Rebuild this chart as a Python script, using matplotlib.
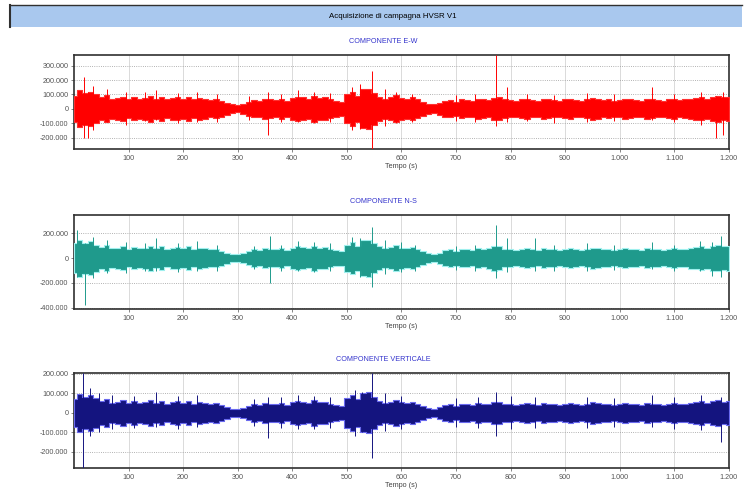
import matplotlib.pyplot as plt
import matplotlib.ticker as mticker
from matplotlib.patches import Rectangle
import numpy as np

plt.rcParams['font.family'] = ['Liberation Sans', 'DejaVu Sans']

# time axis of the envelopes (s), one value every 10 s
t_env = list(range(0, 1201, 10))

# amplitude envelope of the dense part of each trace (thousands of counts)
ew_env = [90, 130, 110, 120, 100, 80, 95, 70, 75, 85, 65, 80,
          70, 75, 90, 70, 85, 65, 75, 80, 70, 85, 65, 75,
          70, 60, 65, 55, 40, 30, 25, 35, 50, 60, 55, 70,
          65, 60, 70, 55, 75, 85, 80, 70, 90, 75, 80, 65,
          55, 50, 100, 120, 90, 135, 140, 110, 85, 70, 80, 95,
          75, 70, 80, 65, 50, 35, 30, 40, 55, 60, 50, 65,
          60, 55, 70, 65, 60, 75, 80, 65, 60, 55, 65, 70,
          60, 55, 70, 65, 60, 55, 65, 70, 60, 55, 65, 75,
          70, 60, 65, 55, 60, 70, 65, 60, 55, 70, 65, 60,
          55, 65, 70, 60, 65, 70, 75, 80, 70, 85, 90, 80, 85]
ns_env = [120, 150, 125, 135, 110, 90, 105, 80, 85, 95, 75, 90,
          80, 85, 100, 80, 95, 75, 85, 90, 80, 95, 75, 85,
          80, 70, 75, 60, 45, 35, 30, 40, 55, 70, 65, 80,
          75, 70, 80, 65, 85, 95, 90, 80, 100, 85, 90, 75,
          65, 60, 110, 130, 100, 145, 150, 120, 95, 80, 90, 105,
          85, 80, 90, 75, 55, 40, 35, 45, 65, 70, 60, 75,
          70, 65, 80, 75, 85, 100, 95, 75, 70, 65, 75, 80,
          70, 65, 80, 75, 70, 65, 75, 80, 70, 65, 75, 85,
          80, 70, 75, 65, 70, 80, 75, 70, 65, 80, 75, 70,
          65, 75, 80, 70, 75, 85, 90, 95, 85, 100, 105, 95, 100]
ve_env = [70, 95, 80, 90, 75, 60, 70, 50, 55, 65, 50, 60,
          50, 55, 65, 50, 60, 45, 55, 60, 50, 60, 45, 55,
          50, 45, 50, 40, 30, 22, 20, 25, 35, 45, 40, 50,
          45, 45, 50, 40, 55, 60, 55, 50, 65, 55, 55, 45,
          40, 35, 75, 90, 70, 100, 105, 80, 60, 50, 55, 65,
          55, 50, 55, 45, 35, 25, 22, 30, 40, 45, 35, 45,
          45, 40, 50, 45, 45, 55, 55, 45, 45, 40, 45, 50,
          45, 40, 50, 45, 45, 40, 45, 50, 45, 40, 45, 55,
          50, 45, 45, 40, 45, 50, 45, 45, 40, 50, 45, 45,
          40, 45, 50, 45, 45, 50, 55, 60, 50, 60, 65, 55, 60]

# isolated peaks: time (s), max, min (thousands of counts)
ew_peaks = [(18, 220, -200), (26, 120, -200), (35, 160, -150), (60, 140, -90),
            (95, 120, -110), (130, 115, -85), (150, 130, -80), (190, 110, -100),
            (225, 120, -90), (262, 100, -95), (320, 90, -80), (355, 120, -180),
            (380, 100, -95), (410, 130, -90), (440, 120, -100), (470, 110, -95),
            (510, 150, -150), (525, 170, -140), (546, 260, -280), (570, 140, -120),
            (590, 120, -100), (620, 100, -90), (700, 95, -85), (735, 100, -90),
            (773, 375, -120), (793, 150, -90), (830, 100, -85), (880, 95, -100),
            (940, 110, -90), (990, 100, -85), (1060, 150, -80), (1100, 100, -95),
            (1150, 120, -110), (1176, 90, -200), (1190, 120, -180)]
ns_peaks = [(5, 225, -150), (20, 120, -380), (35, 170, -160), (60, 150, -120),
            (95, 130, -120), (130, 125, -100), (150, 160, -100), (190, 120, -110),
            (225, 140, -100), (262, 110, -100), (330, 100, -90), (360, 180, -200),
            (380, 110, -100), (410, 140, -100), (440, 130, -110), (470, 120, -100),
            (510, 170, -120), (525, 160, -150), (546, 250, -230), (570, 150, -130),
            (600, 130, -110), (625, 110, -100), (700, 100, -95), (735, 110, -100),
            (773, 270, -160), (793, 160, -110), (845, 160, -100), (880, 110, -105),
            (940, 120, -100), (990, 110, -95), (1060, 130, -90), (1100, 110, -105),
            (1148, 140, -100), (1170, 130, -140), (1185, 180, -150)]
ve_peaks = [(17, 205, -282), (30, 130, -120), (45, 100, -95), (70, 90, -80),
            (110, 85, -75), (150, 110, -70), (190, 85, -80), (225, 90, -70),
            (330, 70, -65), (355, 80, -130), (380, 80, -75), (410, 90, -80),
            (440, 85, -80), (470, 80, -75), (515, 120, -120), (528, 110, -100),
            (546, 205, -230), (570, 100, -90), (600, 85, -80), (700, 75, -70),
            (740, 80, -75), (773, 110, -120), (800, 85, -80), (845, 80, -75),
            (940, 80, -75), (990, 75, -70), (1060, 90, -70), (1100, 80, -80),
            (1150, 90, -85), (1185, 80, -150)]

x_ticks = [100, 200, 300, 400, 500, 600, 700, 800, 900, 1000, 1100, 1200]

panels = [
    ('COMPONENTE E-W', ew_env, ew_peaks, '#ff0000', '#ff3030',
     [300000, 200000, 100000, 0, -100000, -200000], (-280000, 375000),
     [0.0995, 0.7038, 0.880, 0.1869]),
    ('COMPONENTE N-S', ns_env, ns_peaks, '#1f9a8c', '#9ff0ee',
     [200000, 0, -200000, -400000], (-410000, 348000),
     [0.0995, 0.3857, 0.880, 0.1869]),
    ('COMPONENTE VERTICALE', ve_env, ve_peaks, '#14147f', '#6a6aee',
     [200000, 100000, 0, -100000, -200000], (-282000, 205000),
     [0.0995, 0.0696, 0.880, 0.1889]),
]


def it_fmt(v, pos=None):
    # Italian thousands separator
    return '{:,.0f}'.format(v).replace(',', '.')


fig = plt.figure(figsize=(7.44, 5.03), dpi=100)

# title bar
bar = Rectangle((10 / 744, 1 - 27 / 503), 732 / 744, 22 / 503, transform=fig.transFigure,
                facecolor='#a9c8ee', edgecolor='none')
fig.patches.append(bar)
fig.add_artist(plt.Line2D([10 / 744, 10 / 744], [1 - 27 / 503, 1 - 5 / 503],
                          transform=fig.transFigure, color='#303030', lw=1.5))
fig.add_artist(plt.Line2D([10 / 744, 742 / 744], [1 - 5 / 503, 1 - 5 / 503],
                          transform=fig.transFigure, color='#303030', lw=1.0))
fig.text(393 / 744, 1 - 16 / 503, 'Acquisizione di campagna HVSR V1', ha='center',
         va='center', fontsize=5.7, color='black')

for name, env, peaks, col, halo, yt, ylim, rect in panels:
    ax = fig.add_axes(rect)
    env = np.array(env) * 1000
    ax.fill_between(t_env, -env, env, step='mid', color=col, lw=0.8,
                    edgecolor=halo, zorder=3)
    for t, hi, lo in peaks:
        ax.vlines(t, lo * 1000, hi * 1000, color=col, lw=0.7, zorder=3)
    ax.set_xlim(0, 1200)
    ax.set_ylim(*ylim)
    ax.set_xticks(x_ticks)
    ax.set_yticks(yt)
    ax.xaxis.set_major_formatter(mticker.FuncFormatter(it_fmt))
    ax.yaxis.set_major_formatter(mticker.FuncFormatter(it_fmt))
    ax.tick_params(labelsize=5.2, length=2, width=0.5, colors='#555555', pad=2)
    ax.grid(True, axis='y', color='#999999', ls=':', lw=0.6)
    ax.grid(True, axis='x', color='#cccccc', ls='-', lw=0.5)
    ax.set_axisbelow(True)
    for s in ax.spines.values():
        s.set_color('#303030')
        s.set_linewidth(1.2)
    ax.set_xlabel('Tempo (s)', fontsize=5.2, color='#444444', labelpad=1)
    fig.text(383 / 744, (rect[1] + rect[3]) + 13 / 503, name, ha='center', va='center',
             fontsize=5.2, color='#3333cc')

fig.savefig('out.png', dpi=100)
